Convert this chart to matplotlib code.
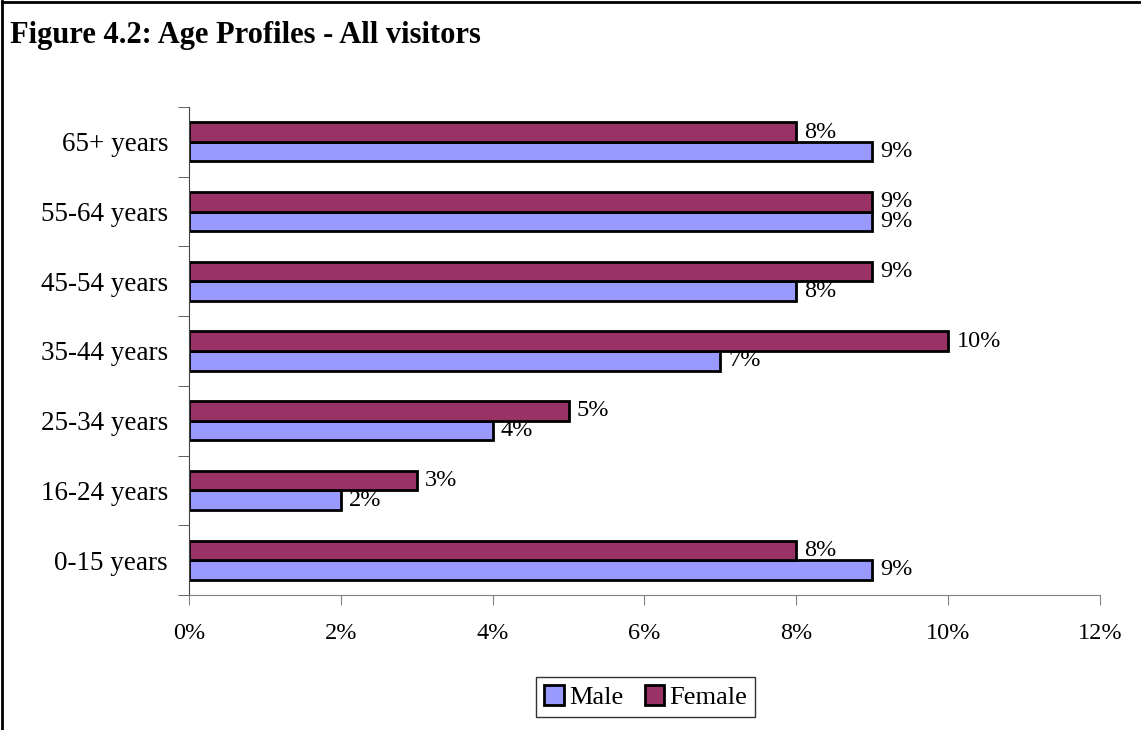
import numpy as np
import matplotlib.pyplot as plt
from matplotlib.lines import Line2D
from matplotlib.ticker import FixedLocator

# Вікові групи (знизу вгору) та частки відвідувачів, %
age_groups = ['0-15 years', '16-24 years', '25-34 years', '35-44 years',
              '45-54 years', '55-64 years', '65+ years']
male = [9, 2, 4, 7, 8, 9, 9]
female = [8, 3, 5, 10, 9, 9, 8]
x_ticks = [0, 2, 4, 6, 8, 10, 12]

plt.rcParams['font.family'] = ['Liberation Serif', 'DejaVu Serif']

fig = plt.figure(figsize=(11.41, 7.3), dpi=100)
ax = fig.add_axes([0.1656, 0.185, 0.7984, 0.6684])

pos = np.arange(len(age_groups))
h = 0.28
bars_m = ax.barh(pos - h / 2, male, height=h, color='#9999FF',
                 edgecolor='black', linewidth=2, label='Male')
bars_f = ax.barh(pos + h / 2, female, height=h, color='#993366',
                 edgecolor='black', linewidth=2, label='Female')

# Підписи значень праворуч від стовпців
for bars, vals in ((bars_f, female), (bars_m, male)):
    for b, v in zip(bars, vals):
        ax.annotate(f'{v}%', (v, b.get_y() + b.get_height() / 2),
                    xytext=(6, 0), textcoords='offset points',
                    ha='left', va='center', fontsize=17.5)

ax.set_xlim(0, 12)
ax.set_ylim(-0.5, len(age_groups) - 0.5)
ax.set_xticks(x_ticks)
ax.set_xticklabels([f'{t}%' for t in x_ticks], fontsize=17.5)
ax.set_yticks(pos)
ax.set_yticklabels(age_groups, fontsize=19.5)
ax.tick_params(axis='y', which='major', length=0, pad=15)
ax.yaxis.set_minor_locator(FixedLocator(np.arange(len(age_groups) + 1) - 0.5))
ax.tick_params(axis='y', which='minor', length=8, color='#444444', direction='out')
ax.tick_params(axis='x', length=7, color='#808080', pad=13)

for s in ('top', 'right'):
    ax.spines[s].set_visible(False)
ax.spines['left'].set_color('#444444')
ax.spines['bottom'].set_color('#808080')

fig.text(0.009, 0.951, 'Figure 4.2: Age Profiles - All visitors',
         fontsize=22, fontweight='bold', ha='left', va='center')

leg = fig.legend(handles=[bars_m, bars_f], labels=['Male', 'Female'],
                 loc='center', bbox_to_anchor=(0.566, 0.045), ncol=2,
                 fontsize=19, frameon=True, fancybox=False,
                 handlelength=0.75, handleheight=0.75, handletextpad=0.2,
                 columnspacing=0.8, borderpad=0.3)
leg.get_frame().set_edgecolor('black')
leg.get_frame().set_linewidth(1)

# Рамка зліва та зверху
fig.add_artist(Line2D([0.002, 0.002], [0, 0.998], color='black', linewidth=2))
fig.add_artist(Line2D([0.002, 1], [0.997, 0.997], color='black', linewidth=2))

fig.savefig('out.png', dpi=100)
